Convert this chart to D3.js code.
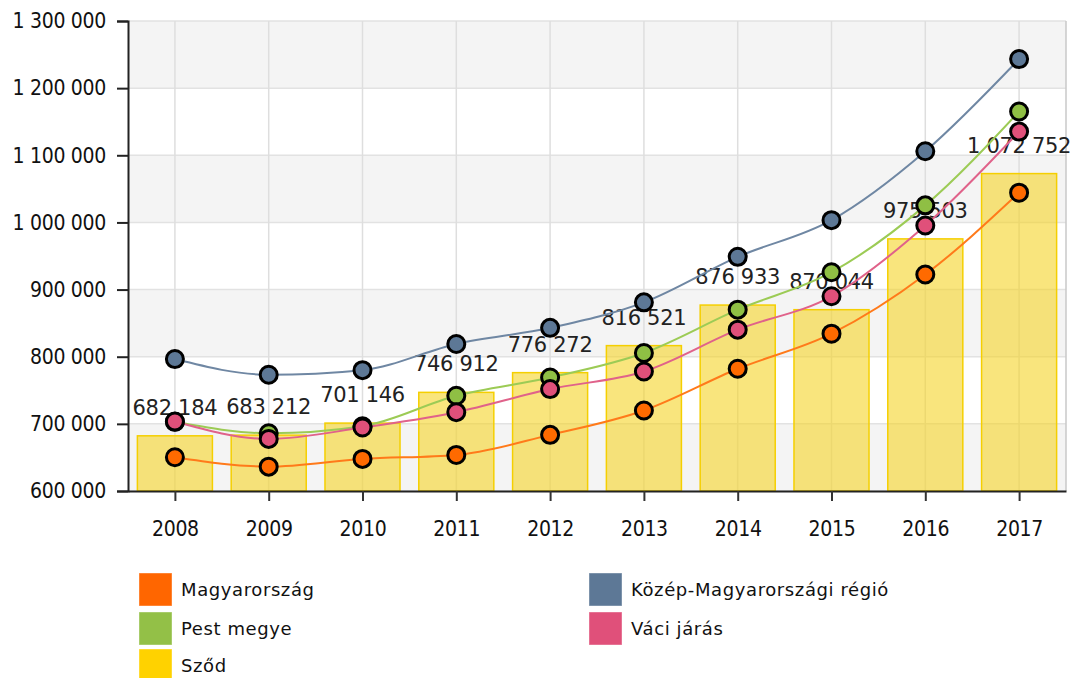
<!DOCTYPE html>
<html>
<head>
<meta charset="utf-8">
<script src="https://cdn.jsdelivr.net/npm/d3@7"></script>
<style>
  html, body { margin: 0; padding: 0; background: #ffffff; }
  svg { display: block; }
</style>
</head>
<body>
<svg id="chart" width="1073" height="678"></svg>
<script>
// ---- data ----
const years = ["2008","2009","2010","2011","2012","2013","2014","2015","2016","2017"];
const szodValues = [682184, 683212, 701146, 746912, 776272, 816521, 876933, 870044, 975503, 1072752];
const magyarorszagValues = [650300, 636300, 647800, 653700, 683600, 719900, 782000, 834300, 922400, 1044300];
const kozepValues = [796500, 773100, 780000, 819000, 843000, 881000, 948800, 1003400, 1106000, 1243300];
const pestValues = [703000, 686000, 696500, 741800, 769000, 805500, 870100, 925800, 1025400, 1165200];
const vaciValues = [703400, 677600, 694500, 717400, 751800, 778000, 840300, 890000, 995500, 1135300];
const yTicks = [600000, 700000, 800000, 900000, 1000000, 1100000, 1200000, 1300000];

const lineSeries = [
  { name: "Magyarország", values: magyarorszagValues, color: "#ff6a00", line: "#ff7a1a" },
  { name: "Közép-Magyarországi régió", values: kozepValues, color: "#5d7896", line: "#6f87a3" },
  { name: "Pest megye", values: pestValues, color: "#8fbf44", line: "#9ccb55" },
  { name: "Váci járás", values: vaciValues, color: "#e0507a", line: "#e0628a" }
];
const legendItems = [
  { name: "Magyarország", color: "#ff6600" },
  { name: "Közép-Magyarországi régió", color: "#5d7896" },
  { name: "Pest megye", color: "#93c047" },
  { name: "Váci járás", color: "#e0507a" },
  { name: "Sződ", color: "#ffd200" }
];

// ---- layout ----
const svg = d3.select("#chart");
const pLeft = 128, pRight = 1066, pTop = 21, pBottom = 491;
const x = d3.scaleBand().domain(years).range([pLeft, pRight]).paddingInner(0.2).paddingOuter(0.1);
const xc = d3.scalePoint().domain(years).range([pLeft, pRight]).padding(0.5);
const y = d3.scaleLinear().domain([600000, 1300000]).range([pBottom, pTop]);
const fmt = v => d3.format(",")(v).replace(/,/g, " ");
const axisFont = "'DejaVu Sans Condensed', 'DejaVu Sans', sans-serif";

// alternating bands
const bands = d3.range(yTicks.length - 1).map(i => [yTicks[i], yTicks[i + 1]]);
svg.append("g").selectAll("rect").data(bands).join("rect")
  .attr("x", pLeft).attr("width", pRight - pLeft)
  .attr("y", d => y(d[1])).attr("height", d => y(d[0]) - y(d[1]))
  .attr("fill", (d, i) => i % 2 === 0 ? "#f4f4f4" : "#ffffff");

// grid lines
svg.append("g").selectAll("line").data(yTicks).join("line")
  .attr("x1", pLeft).attr("x2", pRight)
  .attr("y1", d => y(d)).attr("y2", d => y(d))
  .attr("stroke", "#e2e2e2").attr("stroke-width", 1.5);
svg.append("g").selectAll("line").data(years).join("line")
  .attr("x1", d => xc(d)).attr("x2", d => xc(d))
  .attr("y1", pTop).attr("y2", pBottom)
  .attr("stroke", "#dedede").attr("stroke-width", 1.5);
// right border
svg.append("line").attr("x1", pRight).attr("x2", pRight).attr("y1", pTop).attr("y2", pBottom)
  .attr("stroke", "#c8c8c8").attr("stroke-width", 1.5);

// bars
svg.append("g").selectAll("rect").data(years).join("rect")
  .attr("x", d => x(d)).attr("width", x.bandwidth())
  .attr("y", (d, i) => y(szodValues[i]))
  .attr("height", (d, i) => pBottom - y(szodValues[i]))
  .attr("fill", "#f5d327").attr("fill-opacity", 0.6)
  .attr("stroke", "#f5cf00").attr("stroke-width", 1.5);

// bar labels
svg.append("g").selectAll("text").data(years).join("text")
  .attr("x", d => xc(d))
  .attr("y", (d, i) => y(szodValues[i]) - 21)
  .attr("text-anchor", "middle")
  .attr("font-family", "'DejaVu Sans', sans-serif")
  .attr("font-size", 21)
  .attr("letter-spacing", -0.3)
  .attr("fill", "#222")
  .text((d, i) => fmt(szodValues[i]));

// lines + markers
const lineGen = d3.line().x(d => d.x).y(d => d.y).curve(d3.curveMonotoneX);
lineSeries.forEach(s => {
  const pts = years.map((yr, i) => ({ x: xc(yr), y: y(s.values[i]) }));
  svg.append("path").attr("d", lineGen(pts))
    .attr("fill", "none").attr("stroke", s.line).attr("stroke-width", 2);
});
lineSeries.forEach(s => {
  svg.append("g").selectAll("circle").data(years).join("circle")
    .attr("cx", d => xc(d)).attr("cy", (d, i) => y(s.values[i]))
    .attr("r", 8.5)
    .attr("fill", s.color).attr("stroke", "#000").attr("stroke-width", 3);
});

// y axis
const yAxis = svg.append("g").attr("transform", `translate(${pLeft},0)`)
  .call(d3.axisLeft(y).tickValues(yTicks).tickFormat(fmt).tickSize(11).tickPadding(11));
yAxis.select(".domain").attr("stroke", "#222").attr("stroke-width", 2);
yAxis.selectAll(".tick line").attr("stroke", "#222").attr("stroke-width", 2);
yAxis.selectAll("text").attr("font-family", axisFont).attr("font-size", 21)
  .attr("letter-spacing", -0.3).attr("fill", "#111");

// x axis
const xAxis = svg.append("g").attr("transform", `translate(0,${pBottom})`)
  .call(d3.axisBottom(xc).tickSizeInner(10).tickSizeOuter(0).tickPadding(20));
xAxis.select(".domain").attr("stroke", "#222").attr("stroke-width", 2);
xAxis.selectAll(".tick line").attr("stroke", "#333").attr("stroke-width", 2);
xAxis.selectAll("text").attr("font-family", axisFont).attr("font-size", 21)
  .attr("letter-spacing", -0.3).attr("fill", "#111");

// legend
const legendPos = [
  { x: 139, y: 573 }, { x: 589, y: 573 },
  { x: 139, y: 612 }, { x: 589, y: 612 },
  { x: 139, y: 649 }
];
const lg = svg.append("g").selectAll("g").data(legendItems).join("g")
  .attr("transform", (d, i) => `translate(${legendPos[i].x},${legendPos[i].y})`);
lg.append("rect").attr("width", 33).attr("height", 33).attr("fill", d => d.color)
  .attr("stroke", "#ffffff").attr("stroke-opacity", 0.4);
lg.append("text").attr("x", 42).attr("y", 17).attr("dy", "0.35em")
  .attr("font-family", "'DejaVu Sans', sans-serif")
  .attr("font-size", 18).attr("letter-spacing", 0.6).attr("fill", "#111")
  .text(d => d.name);
</script>
</body>
</html>
